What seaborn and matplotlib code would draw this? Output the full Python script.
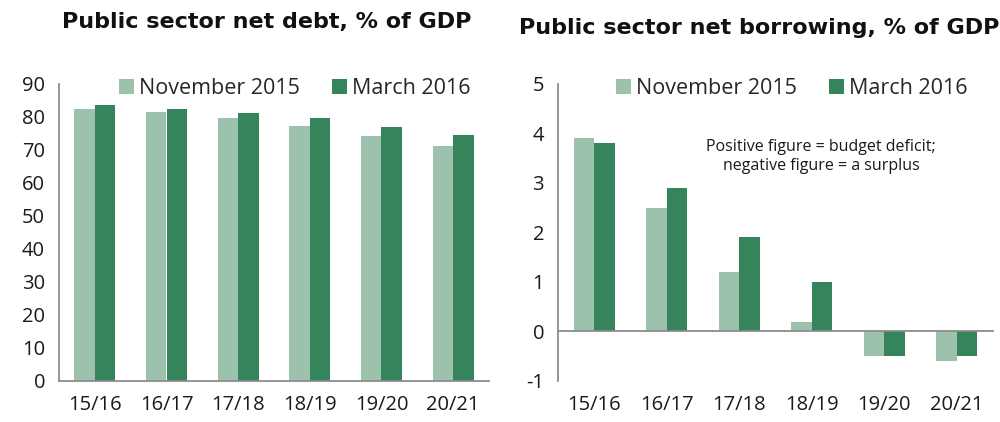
import matplotlib
matplotlib.use("Agg")
import matplotlib.pyplot as plt
import seaborn as sns
import pandas as pd
import numpy as np
from matplotlib.patches import Patch

periods = ["15/16", "16/17", "17/18", "18/19", "19/20", "20/21"]
series = ["November 2015", "March 2016"]
debt_nov = [82.4, 81.6, 79.8, 77.2, 74.1, 71.2]
debt_mar = [83.6, 82.5, 81.2, 79.8, 77.1, 74.5]
borrow_nov = [3.9, 2.5, 1.2, 0.2, -0.5, -0.6]
borrow_mar = [3.8, 2.9, 1.9, 1.0, -0.5, -0.5]
title_debt = "Public sector net debt, % of GDP"
title_borrow = "Public sector net borrowing, % of GDP"
note = "Positive figure = budget deficit;\nnegative figure = a surplus"

colors = {"November 2015": "#9cc2ad", "March 2016": "#36845c"}
grey = "#8c8c8c"

sns.set_theme(style="white")
plt.rcParams["font.family"] = ["Open Sans", "DejaVu Sans"]
plt.rcParams["axes.unicode_minus"] = False

def frame(a, b):
    return pd.DataFrame({
        "period": periods * 2,
        "value": list(a) + list(b),
        "series": [series[0]] * len(periods) + [series[1]] * len(periods),
    })

fig = plt.figure(figsize=(10, 4.22), dpi=100)
ax1 = fig.add_axes([0.059, 0.0972, 0.430, 0.7038])
ax2 = fig.add_axes([0.558, 0.0972, 0.435, 0.7038])

for ax, df, shift in ((ax1, frame(debt_nov, debt_mar), 0.978), (ax2, frame(borrow_nov, borrow_mar), 0.962)):
    sns.barplot(data=df, x="period", y="value", hue="series", palette=colors,
                width=0.57, dodge=True, saturation=1, ax=ax, legend=False,
                linewidth=0, edgecolor="none")
    ax.set_xlabel("")
    ax.set_ylabel("")
    ax.set_xlim(-0.5, 5.5)
    for s in ("top", "right"):
        ax.spines[s].set_visible(False)
    for s in ("left", "bottom"):
        ax.spines[s].set_color(grey)
        ax.spines[s].set_linewidth(1.3)
    ax.set_xticks(np.arange(-0.5, 6.0, 1.0), minor=True)
    ax.tick_params(axis="x", which="minor", length=6, width=1.3, color=grey, direction="out")
    ax.tick_params(axis="y", which="major", length=6, width=1.3, color=grey, direction="out",
                   labelsize=14.5, pad=4, labelcolor="#1a1a1a")
    ax.tick_params(axis="x", which="major", length=0, labelsize=14.5, labelcolor="#1a1a1a")
    handles = [Patch(facecolor=colors[s], edgecolor="none") for s in series]
    ax.legend(handles, series, loc="upper right", ncol=2, frameon=False, fontsize=15.5,
              handlelength=0.68, handleheight=0.68, handletextpad=0.25, columnspacing=1.5,
              borderaxespad=0, bbox_to_anchor=(shift, 1.05))

ax1.set_ylim(0, 90)
ax1.set_yticks(range(0, 91, 10))
ax1.tick_params(axis="x", which="major", pad=10)

ax2.set_ylim(-1, 5)
ax2.set_yticks(range(-1, 6))
ax2.spines["bottom"].set_position(("data", 0))
ax2.tick_params(axis="x", which="major", pad=46)
ax2.text(0.605, 0.755, note, transform=ax2.transAxes, ha="center", va="center",
         fontsize=11.5, color="#1a1a1a", linespacing=1.25)

fig.text(0.267, 0.948, title_debt, ha="center", va="center", fontsize=16, fontweight="bold",
         family=["DejaVu Sans"], color="#111111")
fig.text(0.759, 0.933, title_borrow, ha="center", va="center", fontsize=16, fontweight="bold",
         family=["DejaVu Sans"], color="#111111")

fig.savefig("out.png", dpi=100)
